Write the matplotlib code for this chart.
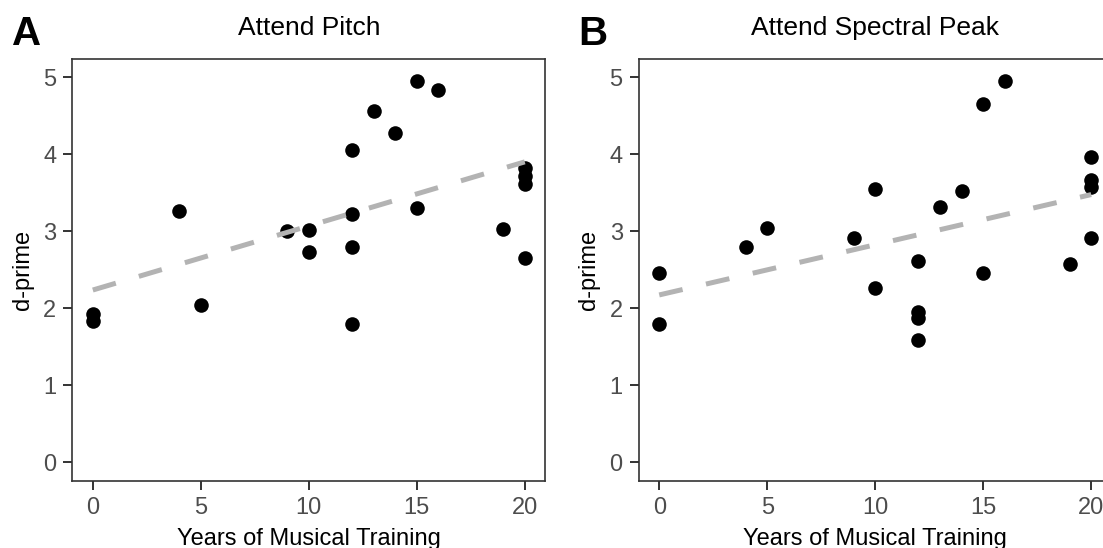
import numpy as np
import matplotlib
matplotlib.use('Agg')
import matplotlib.pyplot as plt

plt.rcParams['font.family'] = ['Liberation Sans', 'DejaVu Sans']

# years of musical training (same listeners in both panels)
years = [0, 0, 4, 5, 9, 10, 10, 12, 12, 12, 12, 13, 14, 15, 15, 16, 19, 20, 20, 20, 20]

# d-prime, attend pitch
dprime_pitch = [1.93, 1.84, 3.26, 2.04, 3.00, 3.02, 2.73, 4.06, 3.22, 2.80, 1.79,
                4.56, 4.28, 4.96, 3.31, 4.84, 3.03, 3.82, 3.72, 3.62, 2.65]

# d-prime, attend spectral peak
dprime_peak = [2.46, 1.80, 2.80, 3.05, 2.91, 3.55, 2.26, 2.61, 1.95, 1.87, 1.59,
               3.32, 3.52, 4.66, 2.46, 4.96, 2.58, 3.97, 3.67, 3.58, 2.91]

panels = [("A", "Attend Pitch", dprime_pitch),
          ("B", "Attend Spectral Peak", dprime_peak)]

W, H = 1103, 548
fig = plt.figure(figsize=(W / 100, H / 100), dpi=100)

ax_w = 473 / W
ax_h = (480.7 - 59) / H
ax_bottom = 1 - 480.7 / H
lefts = [72.3, 638.7]

for (letter, title, dp), left in zip(panels, lefts):
    ax = fig.add_axes([left / W, ax_bottom, ax_w, ax_h])
    x = np.array(years, dtype=float)
    y = np.array(dp)

    ax.scatter(x, y, s=110, color='black', linewidths=0, zorder=2)

    # least squares fit line over the data range
    slope, intercept = np.polyfit(x, y, 1)
    xs = np.array([x.min(), x.max()])
    ax.plot(xs, intercept + slope * xs, color='#b3b3b3', linewidth=3.6,
            linestyle=(0, (4.8, 4.8)), dash_capstyle='butt', zorder=3)

    ax.set_xlim(-0.95, 20.95)
    ax.set_ylim(-0.24, 5.24)
    ax.set_xticks([0, 5, 10, 15, 20])
    ax.set_yticks([0, 1, 2, 3, 4, 5])
    ax.tick_params(length=6.5, width=1.4, color='#333333', labelsize=17,
                   labelcolor='#4d4d4d', pad=5)
    for sp in ax.spines.values():
        sp.set_color('#333333')
        sp.set_linewidth(1.2)

    cx = (left + 473 / 2) / W
    fig.text(cx, 1 - 35 / H, title, ha='center', va='baseline', fontsize=19)
    fig.text(cx, 1 - 545 / H, "Years of Musical Training", ha='center',
             va='baseline', fontsize=17)
    fig.text((left - 49.5) / W, 1 - 270 / H, "d-prime", rotation=90,
             ha='center', va='center', fontsize=17)
    fig.text((left - 60.5) / W, 1 - 45 / H, letter, ha='left', va='baseline',
             fontsize=29, fontweight='bold')

fig.savefig('out.png', dpi=100)
